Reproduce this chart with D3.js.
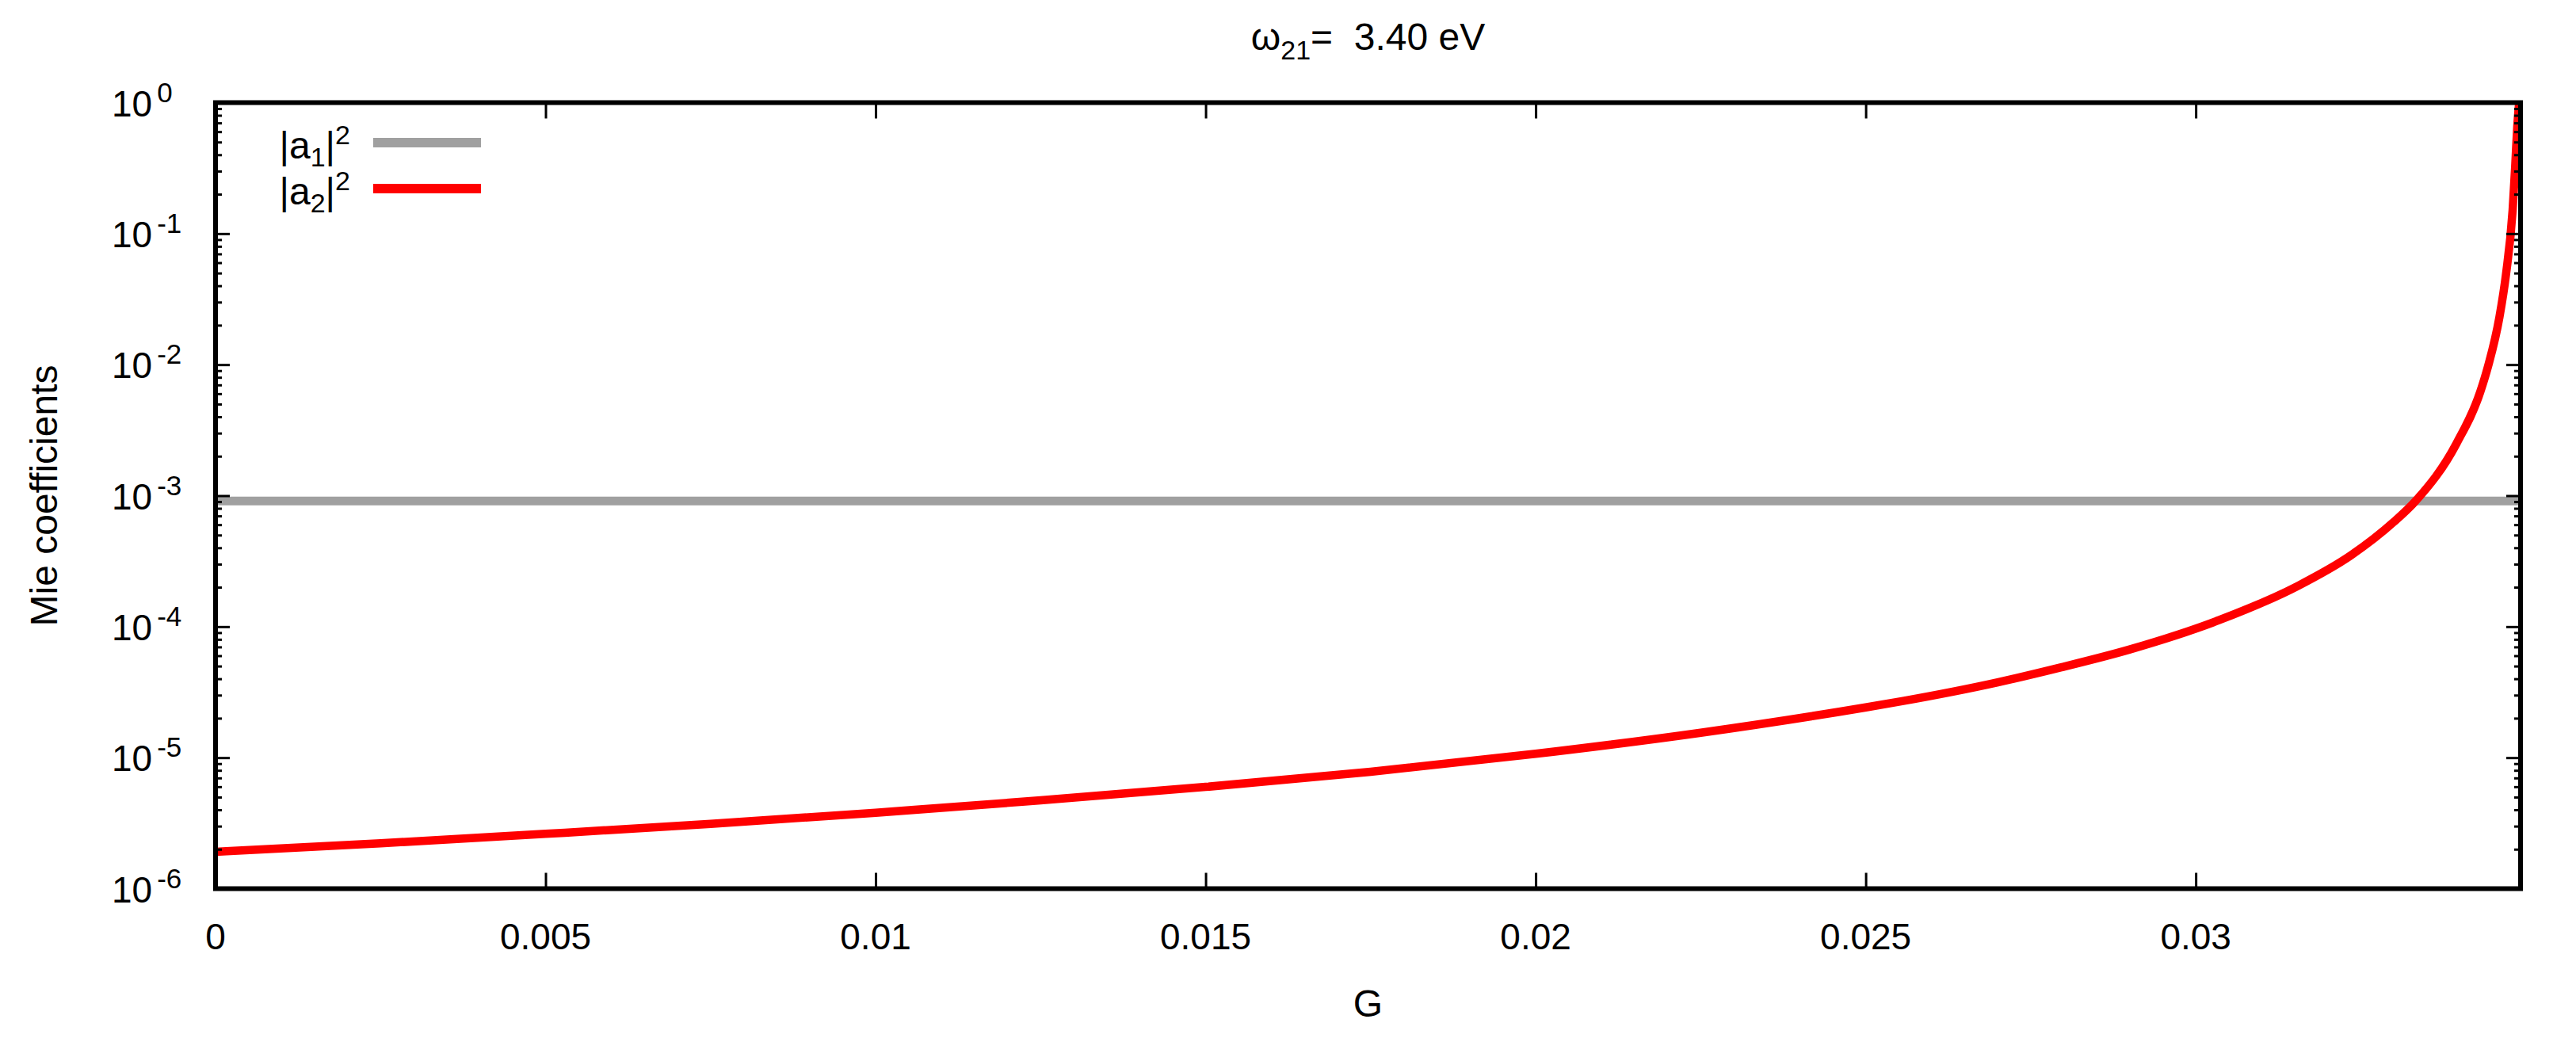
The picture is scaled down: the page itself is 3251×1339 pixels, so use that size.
<!DOCTYPE html>
<html>
<head>
<meta charset="utf-8">
<script src="https://cdn.jsdelivr.net/npm/d3@7"></script>
<style>
  body { margin: 0; background: #fff; }
  text { font-family: "Liberation Sans", Arial, sans-serif; fill: #000; white-space: pre; }
</style>
</head>
<body>
<div id="chart"></div>
<script>
// G values and |a2|^2
const gValues = [0, 0.0025, 0.005, 0.0075, 0.01, 0.0125, 0.015, 0.0175, 0.02, 0.0225,
  0.025, 0.02555, 0.027, 0.02795, 0.029, 0.03035, 0.03155, 0.03235, 0.033, 0.03333,
  0.03395, 0.03431, 0.03443, 0.0346, 0.0347, 0.0348, 0.03484, 0.03487, 0.0349];
const a2Values = [1.91e-6, 2.22e-6, 2.62e-6, 3.12e-6, 3.8e-6, 4.72e-6, 5.98e-6, 7.8e-6, 1.07e-5, 1.55e-5,
  2.42e-5, 2.7e-5, 3.76e-5, 4.88e-5, 6.7e-5, 1.12e-4, 2.05e-4, 3.5e-4, 6.3e-4, 9.1e-4,
  2.5e-3, 6.2e-3, 9.8e-3, 2.3e-2, 4.9e-2, 0.15, 0.33, 0.65, 1.0];

// |a1|^2 is flat over the range
const a1G = [0, 0.03492];
const a1Values = [9.1e-4, 9.1e-4];

const xTicks = [0, 0.005, 0.01, 0.015, 0.02, 0.025, 0.03];
const xTickLabels = ["0", "0.005", "0.01", "0.015", "0.02", "0.025", "0.03"];
const yExponents = [0, -1, -2, -3, -4, -5, -6];

const seriesNames = ["a1", "a2"];
const seriesColors = ["#a0a0a0", "#ff0000"];

const W = 3251, H = 1339;
const margin = { top: 129.5, right: 70, bottom: 217.5, left: 272 };
const width = W - margin.left - margin.right,
  height = H - margin.top - margin.bottom;

const svg = d3.select("#chart")
  .append("svg")
  .attr("width", W)
  .attr("height", H)
  .style("background", "#fff");

const g = svg.append("g")
  .attr("transform", `translate(${margin.left},${margin.top})`);

const x = d3.scaleLinear().domain([0, 0.03492]).range([0, width]);
const y = d3.scaleLog().domain([1e-6, 1]).range([height, 0]);

g.append("clipPath").attr("id", "plotclip")
  .append("rect").attr("width", width).attr("height", height);

// curves
const line = d3.line()
  .x(d => x(d[0]))
  .y(d => y(d[1]))
  .curve(d3.curveMonotoneX);

g.append("path")
  .datum(a1G.map((v, i) => [v, a1Values[i]]))
  .attr("clip-path", "url(#plotclip)")
  .attr("fill", "none")
  .attr("stroke", seriesColors[0])
  .attr("stroke-width", 11)
  .attr("d", line);

g.append("path")
  .datum(gValues.map((v, i) => [v, a2Values[i]]))
  .attr("clip-path", "url(#plotclip)")
  .attr("fill", "none")
  .attr("stroke", seriesColors[1])
  .attr("stroke-width", 10.5)
  .attr("stroke-linejoin", "round")
  .attr("d", line);

// ticks
const majorY = yExponents.map(e => Math.pow(10, e));
const minorY = [];
for (let e = -6; e < 0; e++) {
  for (let k = 2; k <= 9; k++) minorY.push(k * Math.pow(10, e));
}

function styleTicks(sel, w) {
  sel.select(".domain").remove();
  sel.selectAll(".tick line").attr("stroke", "#000").attr("stroke-width", w);
  sel.selectAll(".tick text").remove();
}

g.append("g").call(d3.axisLeft(y).tickValues(majorY).tickSize(-18)).call(styleTicks, 3);
g.append("g").call(d3.axisLeft(y).tickValues(minorY).tickSize(-8)).call(styleTicks, 3);
g.append("g").attr("transform", `translate(${width},0)`)
  .call(d3.axisRight(y).tickValues(majorY).tickSize(-18)).call(styleTicks, 3);
g.append("g").attr("transform", `translate(${width},0)`)
  .call(d3.axisRight(y).tickValues(minorY).tickSize(-8)).call(styleTicks, 3);
g.append("g").attr("transform", `translate(0,${height})`)
  .call(d3.axisBottom(x).tickValues(xTicks).tickSize(-20)).call(styleTicks, 3);
g.append("g")
  .call(d3.axisTop(x).tickValues(xTicks).tickSize(-20)).call(styleTicks, 3);

// frame
g.append("rect")
  .attr("width", width)
  .attr("height", height)
  .attr("fill", "none")
  .attr("stroke", "#000")
  .attr("stroke-width", 6);

// y tick labels 10^n
yExponents.forEach(e => {
  const t = g.append("text")
    .attr("x", 141 - margin.left)
    .attr("y", y(Math.pow(10, e)) + 17)
    .style("font-size", "46px");
  t.append("tspan").text("10");
  t.append("tspan")
    .attr("dx", 6)
    .attr("dy", -18)
    .style("font-size", "35px")
    .text(e === 0 ? "0" : "-" + (-e));
});

// x tick labels
g.append("g")
  .selectAll("text")
  .data(xTicks)
  .join("text")
  .attr("x", d => x(d))
  .attr("y", 1198 - margin.top)
  .attr("text-anchor", "middle")
  .style("font-size", "46px")
  .text((d, i) => xTickLabels[i]);

// axis titles
svg.append("text")
  .attr("x", margin.left + width / 2)
  .attr("y", 1283)
  .attr("text-anchor", "middle")
  .style("font-size", "48px")
  .text("G");

svg.append("text")
  .attr("transform", `translate(72,${margin.top + height / 2}) rotate(-90)`)
  .attr("text-anchor", "middle")
  .style("font-size", "48px")
  .text("Mie coefficients");

// title
const title = svg.append("text")
  .attr("x", margin.left + width / 2)
  .attr("y", 63)
  .attr("text-anchor", "middle")
  .style("font-size", "48px");
title.append("tspan").text("ω");
title.append("tspan").attr("dy", 12).style("font-size", "34px").text("21");
title.append("tspan").attr("dy", -12).text("=  3.40 eV");

// legend
const legendRows = [180, 238];
const legend = svg.append("g").attr("class", "legend");
seriesNames.forEach((name, i) => {
  const ly = legendRows[i];
  legend.append("line")
    .attr("x1", 471).attr("x2", 607)
    .attr("y1", ly).attr("y2", ly)
    .attr("stroke", seriesColors[i])
    .attr("stroke-width", 12);
  const t = legend.append("text")
    .attr("x", 442)
    .attr("y", ly + 20)
    .attr("text-anchor", "end")
    .style("font-size", "48px");
  t.append("tspan").text("|a");
  t.append("tspan").attr("dy", 10).style("font-size", "34px").text(String(i + 1));
  t.append("tspan").attr("dy", -10).text("|");
  t.append("tspan").attr("dy", -18).style("font-size", "34px").text("2");
});
</script>
</body>
</html>
